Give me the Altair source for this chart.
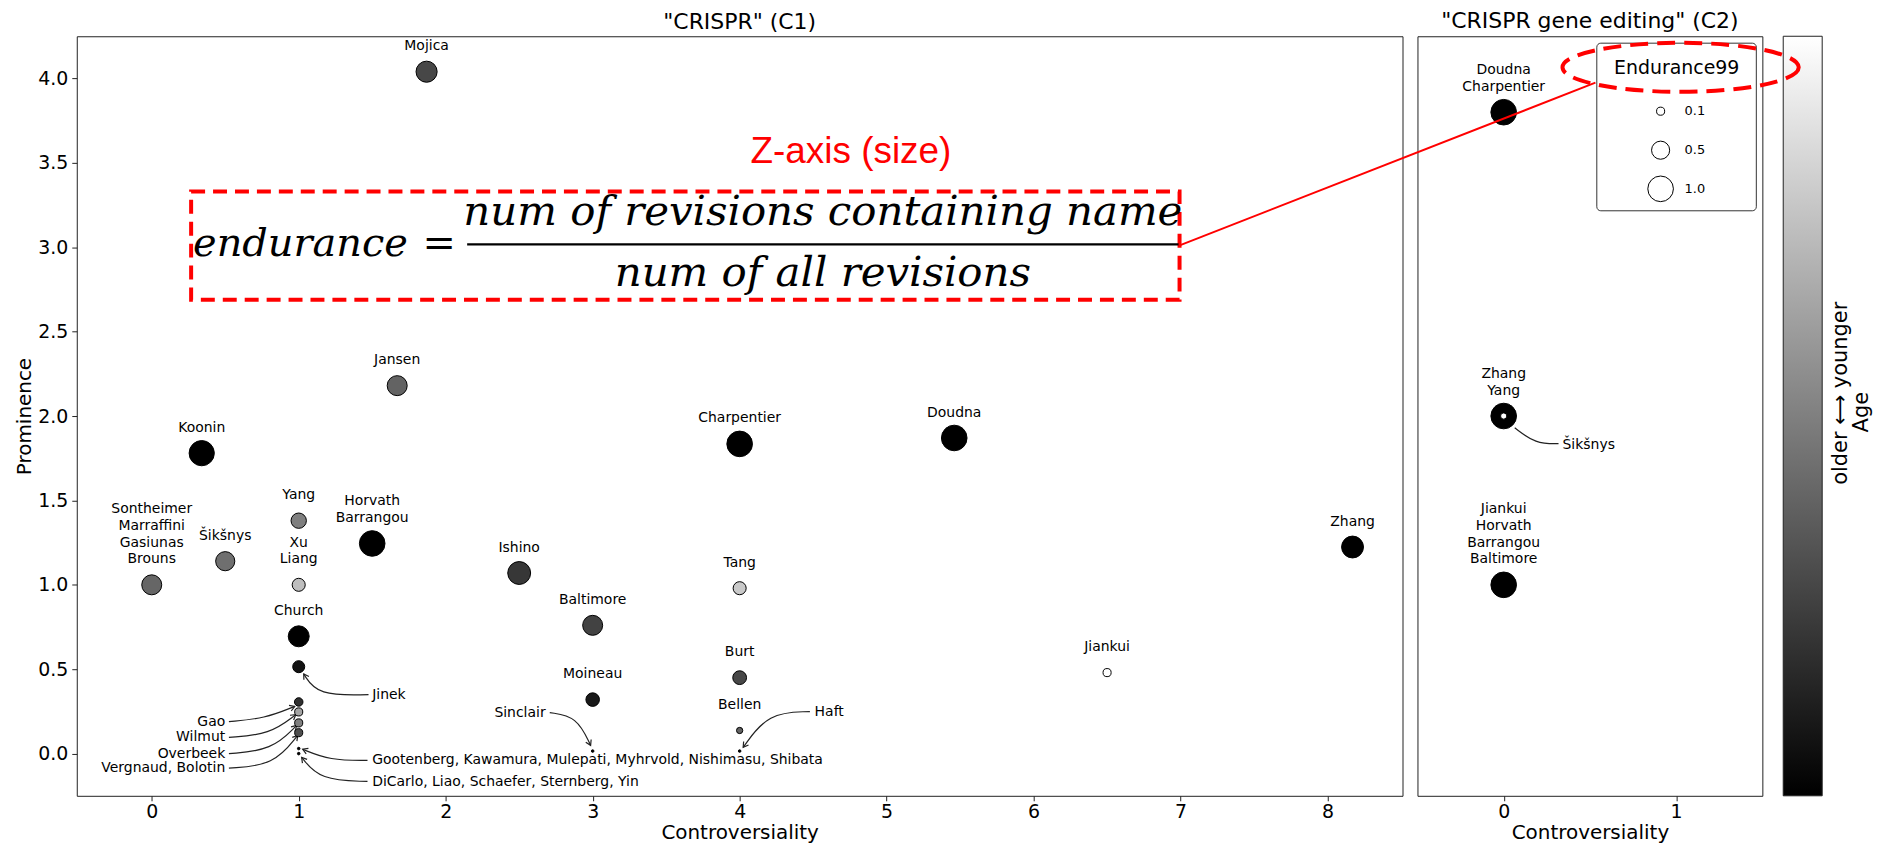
import math
import altair as alt
import pandas as pd

# ---------------- data: panel C1 ("CRISPR") ----------------
c1_label = ["Mojica", "Jansen", "Koonin", "Sontheimer\nMarraffini\nGasiunas\nBrouns", "Šikšnys",
            "Yang", "Xu\nLiang", "Horvath\nBarrangou", "Church", "", "", "", "", "", "", "",
            "Ishino", "Baltimore", "Moineau", "", "Charpentier", "Tang", "Burt", "Bellen", "",
            "Doudna", "Jiankui", "Zhang"]
c1_x = [1.87, 1.67, 0.34, 0.0, 0.5, 1.0, 1.0, 1.5, 1.0, 1.0, 1.0, 1.0, 1.0, 1.0, 1.0, 1.0,
        2.5, 3.0, 3.0, 3.0, 4.0, 4.0, 4.0, 4.0, 4.0, 5.46, 6.5, 8.17]
c1_y = [4.04, 2.18, 1.78, 1.0, 1.14, 1.38, 1.0, 1.245, 0.695, 0.515, 0.306, 0.247, 0.182, 0.124,
        0.03, 0.0, 1.07, 0.76, 0.32, 0.015, 1.835, 0.98, 0.45, 0.137, 0.015, 1.87, 0.48, 1.224]
c1_end = [0.68, 0.61, 0.97, 0.61, 0.56, 0.36, 0.26, 1.0, 0.67, 0.22, 0.11, 0.1, 0.1, 0.1,
          0.01, 0.01, 0.8, 0.61, 0.28, 0.01, 1.0, 0.26, 0.29, 0.06, 0.01, 1.0, 0.1, 0.73]
c1_age = [0.30, 0.42, 0.0, 0.43, 0.47, 0.53, 0.77, 0.0, 0.0, 0.06, 0.2, 0.67, 0.53, 0.33,
          0.0, 0.0, 0.23, 0.28, 0.09, 0.0, 0.0, 0.81, 0.30, 0.42, 0.0, 0.0, 1.0, 0.0]

# arrow annotations in C1
ann_text = ["Jinek", "Gao", "Wilmut", "Overbeek", "Vergnaud, Bolotin",
            "Gootenberg, Kawamura, Mulepati, Myhrvold, Nishimasu, Shibata",
            "DiCarlo, Liao, Schaefer, Sternberg, Yin", "Sinclair", "Haft"]
ann_align = ["left", "right", "right", "right", "right", "left", "left", "right", "left"]
ann_tx = [1.50, 0.50, 0.50, 0.50, 0.50, 1.50, 1.50, 2.68, 4.51]
ann_ty = [0.349, 0.19, 0.096, 0.0, -0.086, -0.04, -0.168, 0.243, 0.249]
ann_sx = [1.475, 0.525, 0.525, 0.525, 0.525, 1.468, 1.468, 2.708, 4.478]
ann_sy = [0.349, 0.190, 0.096, 0.0, -0.086, -0.04, -0.165, 0.243, 0.249]
ann_cx = [1.129, 0.769, 0.803, 0.817, 0.831, 1.212, 1.144, 2.892, 4.193]
ann_cy = [0.343, 0.208, 0.114, 0.02, -0.069, -0.04, -0.157, 0.22, 0.243]
ann_ex = [1.034, 0.973, 0.98, 0.986, 0.993, 1.027, 1.02, 2.986, 4.024]
ann_ey = [0.472, 0.280, 0.231, 0.167, 0.108, 0.026, -0.022, 0.049, 0.037]

# ---------------- data: panel C2 ("CRISPR gene editing") ----------------
c2_label = ["Doudna\nCharpentier", "Zhang\nYang", "Jiankui\nHorvath\nBarrangou\nBaltimore", ""]
c2_x = [0.0, 0.0, 0.0, 0.0]
c2_y = [3.8, 2.0, 1.0, 2.0]
c2_end = [1.0, 1.0, 1.0, 0.06]
c2_age = [0.0, 0.0, 0.0, 1.0]
c2_ann_text = ["Šikšnys"]
c2_ann_tx = [0.341]
c2_ann_ty = [1.83]
c2_arrow_x = [0.318, 0.185, 0.064]
c2_arrow_y = [1.836, 1.836, 1.93]

# size legend "Endurance99" (C2 data coordinates)
legend_values = [0.1, 0.5, 1.0]
legend_labels = ["0.1", "0.5", "1.0"]
legend_sym_x = 0.910
legend_lab_x = 1.049
legend_y = [3.806, 3.575, 3.346]
legend_box = {"x": [0.540], "x2": [1.465], "y": [4.209], "y2": [3.216]}
legend_title = {"x": [1.003], "y": [4.063], "t": ["Endurance99"]}

# age colour bar (C2 data coordinates, right of the panel)
cbar_box = {"x": [1.621], "x2": [1.847], "y": [-0.25], "y2": [4.25]}
cbar_text = ["older ⟷ younger", "Age"]
cbar_tx = [1.893, 2.012]
cbar_ty = [2.135, 2.023]

# equation overlay (C1 data coordinates)
eq_endurance = {"x": [0.281], "y": [2.946], "t": ["endurance"]}
eq_equals = {"x": [1.956], "y": [2.946], "t": ["="]}
eq_frac = {"x": [4.566, 4.566], "y": [3.134, 2.770],
           "t": ["num of revisions containing name", "num of all revisions"]}
eq_bar = {"x": [2.146], "x2": [6.986], "y": [3.017]}
eq_box = {"x": [0.268], "x2": [6.993], "y": [3.330], "y2": [2.689]}
zaxis_note = {"x": [4.757], "y": [3.563], "t": ["Z-axis (size)"]}
# connector (C2 data coordinates) and highlight around legend title
red_link_x = [-1.879, 0.532]
red_link_y = [3.011, 3.975]
ellipse_xy = {"x": [1.026], "y": [4.066]}

# ---------------- layout constants ----------------
W1, W2, H = 1330, 346, 762
X1_DOM = [-0.51, 8.51]
X2_DOM = [-0.5, 1.5]
Y_DOM = [-0.25, 4.25]

size_scale = alt.Scale(domain=[0, 1], range=[0, 660])
gray_scale = alt.Scale(domain=[0, 1], range=["#000000", "#ffffff"])

x1 = alt.X("x:Q", scale=alt.Scale(domain=X1_DOM, nice=False, zero=False),
           axis=alt.Axis(values=list(range(9)), format="d", title="Controversiality",
                         labelPadding=2, titlePadding=1))
y1 = alt.Y("y:Q", scale=alt.Scale(domain=Y_DOM, nice=False, zero=False),
           axis=alt.Axis(values=[0, 0.5, 1, 1.5, 2, 2.5, 3, 3.5, 4], format=".1f",
                         title="Prominence", labelPadding=4, titlePadding=3))
x2 = alt.X("x:Q", scale=alt.Scale(domain=X2_DOM, nice=False, zero=False),
           axis=alt.Axis(values=[0, 1], format="d", title="Controversiality",
                         labelPadding=2, titlePadding=1))
y2 = alt.Y("y:Q", scale=alt.Scale(domain=Y_DOM, nice=False, zero=False), axis=None)

LABEL_FONT = "DejaVu Sans"
LINE_H = 16.8


def name_labels(df, xenc, yenc):
    """Multi-line labels stacked upwards above each point."""
    layers = []
    for n in sorted(set(df["nl"])):
        if n == 0:
            continue
        layers.append(
            alt.Chart(df).transform_filter(f"datum.nl == {n}").mark_text(
                font=LABEL_FONT, fontSize=14, color="black", align="center",
                baseline="alphabetic", dy=-21.5 - (n - 1) * LINE_H, lineBreak="\n",
                lineHeight=LINE_H,
            ).encode(x=xenc, y=yenc, text="label:N")
        )
    return layers


# ---------------- C1 ----------------
c1 = pd.DataFrame({"label": c1_label, "x": c1_x, "y": c1_y, "end": c1_end, "age": c1_age})
c1["nl"] = [0 if s == "" else s.count("\n") + 1 for s in c1_label]

pts1 = alt.Chart(c1).mark_circle(stroke="black", strokeWidth=1, opacity=1).encode(
    x=x1, y=y1,
    size=alt.Size("end:Q", scale=size_scale, legend=None),
    color=alt.Color("age:Q", scale=gray_scale, legend=None),
)

ann = pd.DataFrame({"t": ann_text, "x": ann_tx, "y": ann_ty, "al": ann_align})
ann_left = alt.Chart(ann).transform_filter("datum.al == 'left'").mark_text(
    font=LABEL_FONT, fontSize=14, color="black", align="left", baseline="middle"
).encode(x=x1, y=y1, text="t:N")
ann_right = alt.Chart(ann).transform_filter("datum.al == 'right'").mark_text(
    font=LABEL_FONT, fontSize=14, color="black", align="right", baseline="middle"
).encode(x=x1, y=y1, text="t:N")

rows = []
for i in range(len(ann_text)):
    for k, (ax, ay) in enumerate([(ann_sx[i], ann_sy[i]), (ann_cx[i], ann_cy[i]),
                                  (ann_ex[i], ann_ey[i])]):
        rows.append({"id": i, "k": k, "x": ax, "y": ay})
arrows = pd.DataFrame(rows)
arrow_lines = alt.Chart(arrows).mark_line(interpolate="basis", color="#222222", strokeWidth=1.2).encode(
    x=x1, y=y1, detail="id:N", order="k:Q")

kx = W1 / (X1_DOM[1] - X1_DOM[0])
ky = H / (Y_DOM[1] - Y_DOM[0])
heads = pd.DataFrame({
    "x": ann_ex, "y": ann_ey,
    "ang": [math.degrees(math.atan2((ann_ex[i] - ann_cx[i]) * kx, (ann_ey[i] - ann_cy[i]) * ky)) % 360
            for i in range(len(ann_text))],
})
arrow_heads = alt.Chart(heads).mark_point(
    shape="M-0.6,1L0,0L0.6,1", filled=False, color="#222222", strokeWidth=1.2, size=100, opacity=1
).encode(x=x1, y=y1, angle=alt.Angle("ang:Q", scale=None))

box = alt.Chart(pd.DataFrame(eq_box)).mark_rect(
    fill="transparent", stroke="#ff0000", strokeWidth=4, strokeDash=[14, 8]
).encode(x=x1, x2="x2:Q", y=y1, y2="y2:Q")
t_end = alt.Chart(pd.DataFrame(eq_endurance)).mark_text(
    font="DejaVu Serif", fontStyle="italic", fontSize=40, color="black", align="left",
    baseline="alphabetic").encode(x=x1, y=y1, text="t:N")
t_eq = alt.Chart(pd.DataFrame(eq_equals)).mark_text(
    font="DejaVu Serif", fontSize=40, color="black", align="center",
    baseline="alphabetic").encode(x=x1, y=y1, text="t:N")
t_frac = alt.Chart(pd.DataFrame(eq_frac)).mark_text(
    font="DejaVu Serif", fontStyle="italic", fontSize=42, color="black", align="center",
    baseline="alphabetic").encode(x=x1, y=y1, text="t:N")
bar = alt.Chart(pd.DataFrame(eq_bar)).mark_rule(color="black", strokeWidth=2.5).encode(
    x=x1, x2="x2:Q", y=y1)
znote = alt.Chart(pd.DataFrame(zaxis_note)).mark_text(
    font="Liberation Sans", fontSize=37, color="#ff0000", align="center", baseline="middle"
).encode(x=x1, y=y1, text="t:N")

left = alt.layer(arrow_lines, arrow_heads, pts1, *name_labels(c1, x1, y1), ann_left, ann_right,
                 box, t_end, t_eq, t_frac, bar, znote).properties(
    width=W1, height=H, title=alt.TitleParams('"CRISPR" (C1)'))

# ---------------- C2 ----------------
c2 = pd.DataFrame({"label": c2_label, "x": c2_x, "y": c2_y, "end": c2_end, "age": c2_age})
c2["nl"] = [0 if s == "" else s.count("\n") + 1 for s in c2_label]

pts2 = alt.Chart(c2).mark_circle(stroke="black", strokeWidth=1, opacity=1).encode(
    x=x2, y=y2,
    size=alt.Size("end:Q", scale=size_scale, legend=None),
    color=alt.Color("age:Q", scale=gray_scale, legend=None),
)
ann2 = alt.Chart(pd.DataFrame({"t": c2_ann_text, "x": c2_ann_tx, "y": c2_ann_ty})).mark_text(
    font=LABEL_FONT, fontSize=14, color="black", align="left", baseline="middle"
).encode(x=x2, y=y2, text="t:N")
arrow2 = alt.Chart(pd.DataFrame({"x": c2_arrow_x, "y": c2_arrow_y, "k": [0, 1, 2]})).mark_line(
    interpolate="basis", color="#222222", strokeWidth=1.2).encode(x=x2, y=y2, order="k:Q")

# legend drawn with the same size scale as the points
leg_frame = alt.Chart(pd.DataFrame(legend_box)).mark_rect(
    fill="white", stroke="#333333", strokeWidth=1, cornerRadius=4
).encode(x=x2, x2="x2:Q", y=y2, y2="y2:Q")
leg_title = alt.Chart(pd.DataFrame(legend_title)).mark_text(
    font=LABEL_FONT, fontSize=19, color="black", align="center", baseline="middle"
).encode(x=x2, y=y2, text="t:N")
leg_df = pd.DataFrame({"v": legend_values, "lab": legend_labels, "y": legend_y,
                       "x": [legend_sym_x] * 3, "xl": [legend_lab_x] * 3})
leg_sym = alt.Chart(leg_df).mark_circle(color="white", stroke="black", strokeWidth=1, opacity=1).encode(
    x=x2, y=y2, size=alt.Size("v:Q", scale=size_scale, legend=None))
leg_lab = alt.Chart(leg_df).mark_text(
    font=LABEL_FONT, fontSize=13, color="black", align="left", baseline="middle"
).encode(x=alt.X("xl:Q", scale=alt.Scale(domain=X2_DOM, nice=False, zero=False)), y=y2, text="lab:N")

# colour bar for age
grad = alt.LinearGradient(
    gradient="linear",
    stops=[alt.GradientStop(color="#000000", offset=0), alt.GradientStop(color="#ffffff", offset=1)],
    x1=0, x2=0, y1=1, y2=0)
cbar = alt.Chart(pd.DataFrame(cbar_box)).mark_rect(
    fill=grad, stroke="#222222", strokeWidth=1, clip=False
).encode(x=x2, x2="x2:Q", y=y2, y2="y2:Q")
cbar_lab = alt.Chart(pd.DataFrame({"t": cbar_text, "x": cbar_tx, "y": cbar_ty})).mark_text(
    font=LABEL_FONT, fontSize=21, color="black", align="center", baseline="top", angle=270,
    clip=False
).encode(x=x2, y=y2, text="t:N")

link = alt.Chart(pd.DataFrame({"x": red_link_x, "y": red_link_y})).mark_line(
    color="#ff0000", strokeWidth=2, clip=False).encode(x=x2, y=y2)
ell_path = ("M1,0 C1,0.1147 0.5523,0.2076 0,0.2076 C-0.5523,0.2076 -1,0.1147 -1,0 "
            "C-1,-0.1147 -0.5523,-0.2076 0,-0.2076 C0.5523,-0.2076 1,-0.1147 1,0 Z")
ell = alt.Chart(pd.DataFrame(ellipse_xy)).mark_point(
    shape=ell_path, filled=False, color="#ff0000", strokeWidth=4, strokeDash=[18, 9],
    size=237 * 237, opacity=1, clip=False).encode(x=x2, y=y2)

right = alt.layer(cbar, cbar_lab, leg_frame, leg_title, leg_sym, leg_lab,
                  pts2, *name_labels(c2, x2, y2), arrow2, ann2, link, ell).properties(
    width=W2, height=H, title=alt.TitleParams('"CRISPR gene editing" (C2)'))

chart = alt.hconcat(left, right, spacing=15, bounds="flush").resolve_scale(
    size="independent", color="independent"
).properties(
    padding={"left": 6, "top": 0, "right": 0, "bottom": 0}
).configure_view(stroke="#222222", strokeWidth=1).configure_axis(
    grid=False, domain=False, tickColor="#222222", tickSize=5, tickWidth=1,
    labelFont=LABEL_FONT, labelFontSize=19, labelColor="black",
    titleFont=LABEL_FONT, titleFontSize=20, titleFontWeight="normal", titleColor="black",
).configure_title(font=LABEL_FONT, fontSize=22, fontWeight="normal", color="black", offset=2)

chart.save("out.html", embed_options={"renderer": "svg", "actions": False})
